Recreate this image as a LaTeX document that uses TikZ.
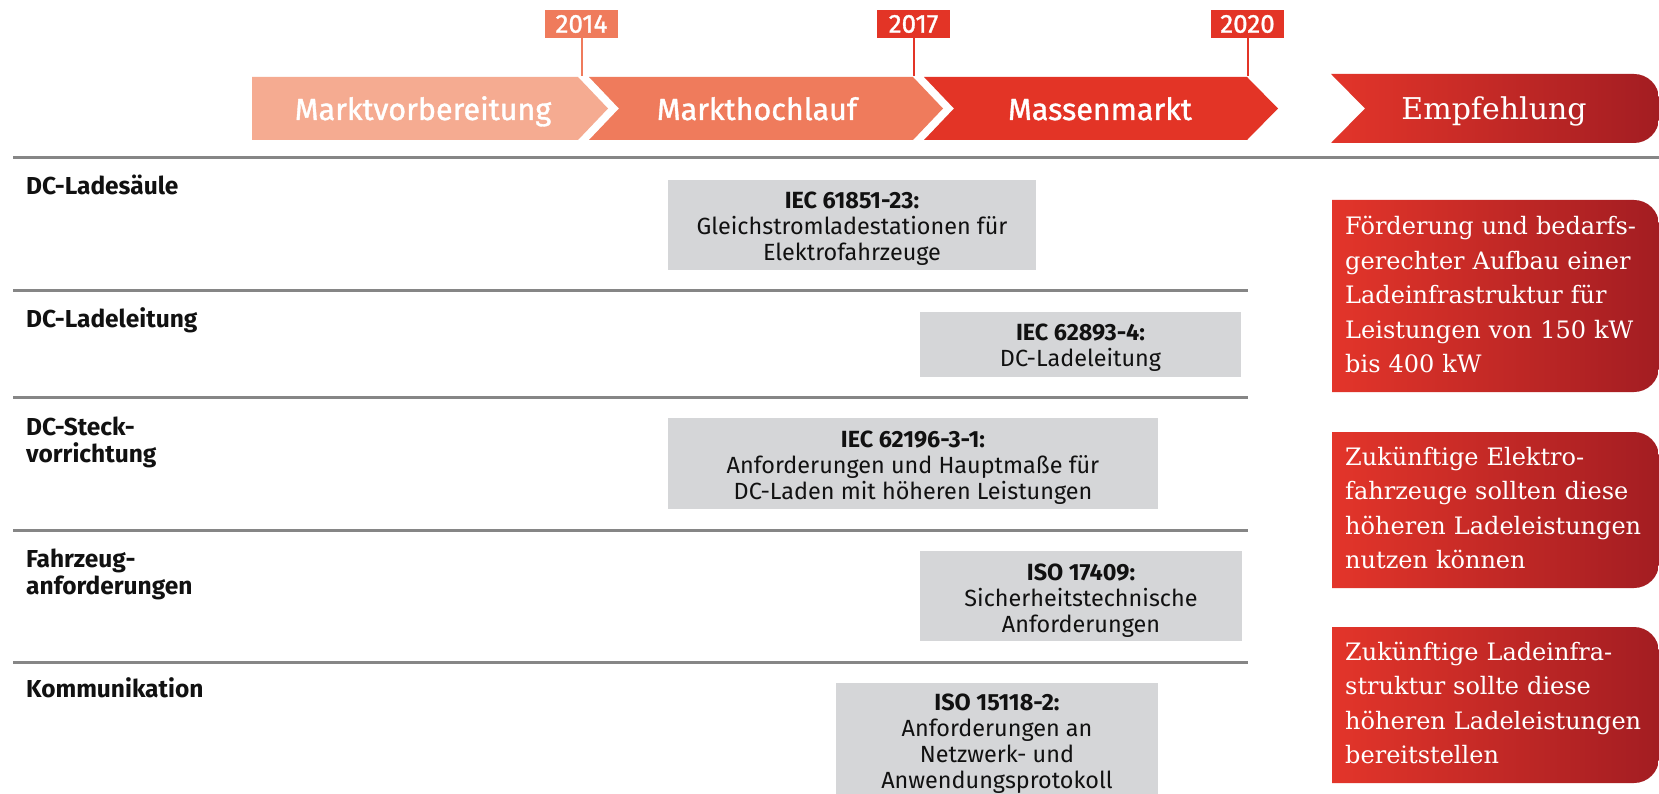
\documentclass[tikz,border=0pt]{standalone}
\usepackage{fontspec}
\setsansfont{Fira Sans}
\newfontfamily\serifred{DejaVu Serif}
\newfontfamily\headsans{Fira Sans}[FakeBold=1.2]
\definecolor{phaseA}{HTML}{F5AB91}
\definecolor{phaseB}{HTML}{EF7B5C}
\definecolor{phaseC}{HTML}{E33426}
\definecolor{redL}{HTML}{E3352A}
\definecolor{redD}{HTML}{A31D22}
\definecolor{boxgray}{HTML}{D5D6D8}
\definecolor{linegray}{HTML}{868686}
\definecolor{labeltext}{HTML}{111111}
\tikzset{
  phasetext/.style={anchor=base, text=white, inner sep=0, font=\headsans\fontsize{30.5}{33}\selectfont},
  yearbox/.style={minimum width=73, minimum height=28, inner sep=0, text=white, font=\headsans\fontsize{26}{28}\selectfont},
  yearline/.style={line width=2pt},
  sepmain/.style={draw=linegray, line width=3.5pt},
  seprow/.style={draw=linegray, line width=3pt},
  rowlabel/.style={anchor=base west, inner sep=0, text=labeltext, text width=300, align=left, font=\sffamily\bfseries\fontsize{24.5}{27}\selectfont},
  gbox/.style={fill=boxgray, inner sep=0},
  gtext/.style={inner sep=0, align=center, text=labeltext, font=\sffamily\fontsize{23.4}{26}\selectfont},
  redtext/.style={anchor=base west, inner sep=0, text=white, text width=320, align=left, font=\serifred\fontsize{24}{34.5}\selectfont},
  redshade/.style={left color=redL, right color=redD},
}
\begin{document}
\begin{tikzpicture}[x=1pt,y=-1pt]
\useasboundingbox[fill=white] (0,0) rectangle (1659,794);

% ---- phase arrows
\fill[phaseA] (252,77) -- (578,77) -- (608,108.5) -- (578,140) -- (252,140) -- cycle;
\fill[phaseB] (589,77) -- (913,77) -- (943,108.5) -- (913,140) -- (589,140) -- (619,108.5) -- cycle;
\fill[phaseC] (924,77) -- (1247,77) -- (1278,108.5) -- (1247,140) -- (924,140) -- (954,108.5) -- cycle;
\shade[redshade] (1331,74) -- (1634,74) arc(270:360:25) -- (1659,118) arc(0:90:25) -- (1331,143) -- (1365,108.5) -- cycle;

\node[phasetext] (p1) at (423,120) {Marktvorbereitung};
\node[phasetext] (p2) at (757,120) {Markthochlauf};
\node[phasetext] (p3) at (1100,120) {Massenmarkt};
\node[phasetext, font=\serifred\fontsize{30}{33}\selectfont] (p4) at (1494,120) {Empfehlung};

% ---- years
\node[yearbox, fill=phaseB] (y1) at (581.5,24) {2014};
\node[yearbox, fill=phaseC] (y2) at (913.5,24) {2017};
\node[yearbox, fill=phaseC] (y3) at (1247.5,24) {2020};
\coordinate (m1) at (581.5,76);
\coordinate (m2) at (913.5,76);
\coordinate (m3) at (1247.5,76);
\draw[yearline, phaseB] (y1.south) -- (m1);
\draw[yearline, phaseC] (y2.south) -- (m2);
\draw[yearline, phaseC] (y3.south) -- (m3);

% ---- separators
\draw[sepmain] (13,157.5) -- (1659,157.5);
\draw[seprow] (13,290) -- (1248,290);
\draw[seprow] (13,397) -- (1248,397);
\draw[seprow] (13,530) -- (1248,530);
\draw[seprow] (13,662) -- (1248,662);

% ---- row labels
\node[rowlabel] (l1) at (26,195) {DC-Ladesäule};
\node[rowlabel] (l2) at (26,327) {DC-Ladeleitung};
\node[rowlabel] (l3) at (26,435) {DC-Steck-\\vorrichtung};
\node[rowlabel] (l4) at (26,567) {Fahrzeug-\\anforderungen};
\node[rowlabel] (l5) at (26,697) {Kommunikation};

% ---- standards boxes
\node[gbox, minimum width=368, minimum height=90] (b1) at (852,225) {};
\node[gtext] (t1) at (852,229) {\textbf{IEC 61851-23:}\\Gleichstromladestationen für\\Elektrofahrzeuge};
\node[gbox, minimum width=321, minimum height=65] (b2) at (1080.5,344.5) {};
\node[gtext] (t2) at (1080.5,348) {\textbf{IEC 62893-4:}\\DC-Ladeleitung};
\node[gbox, minimum width=490, minimum height=91] (b3) at (913,463.5) {};
\node[gtext] (t3) at (913,467.5) {\textbf{IEC 62196-3-1:}\\Anforderungen und Hauptmaße für\\DC-Laden mit höheren Leistungen};
\node[gbox, minimum width=322, minimum height=90] (b4) at (1081,596) {};
\node[gtext] (t4) at (1081,600.5) {\textbf{ISO 17409:}\\Sicherheitstechnische\\Anforderungen};
\node[gbox, minimum width=322, minimum height=111] (b5) at (997,738.5) {};
\node[gtext] (t5) at (997,743.5) {\textbf{ISO 15118-2:}\\Anforderungen an\\Netzwerk- und\\Anwendungsprotokoll};

% ---- recommendations
\shade[redshade] (1332,200) -- (1634,200) arc(270:360:25) -- (1659,367) arc(0:90:25) -- (1332,392) -- cycle;
\shade[redshade] (1332,432) -- (1634,432) arc(270:360:25) -- (1659,563) arc(0:90:25) -- (1332,588) -- cycle;
\shade[redshade] (1332,627) -- (1634,627) arc(270:360:25) -- (1659,758) arc(0:90:25) -- (1332,783) -- cycle;

\node[redtext] (r1) at (1345,235) {Förderung und bedarfs-\\gerechter Aufbau einer\\Ladeinfrastruktur für\\Leistungen von 150 kW\\bis 400 kW};
\node[redtext] (r2) at (1345,465) {Zukünftige Elektro-\\fahrzeuge sollten diese\\höheren Ladeleistungen\\nutzen können};
\node[redtext] (r3) at (1345,660) {Zukünftige Ladeinfra-\\struktur sollte diese\\höheren Ladeleistungen\\bereitstellen};
\end{tikzpicture}
\end{document}
